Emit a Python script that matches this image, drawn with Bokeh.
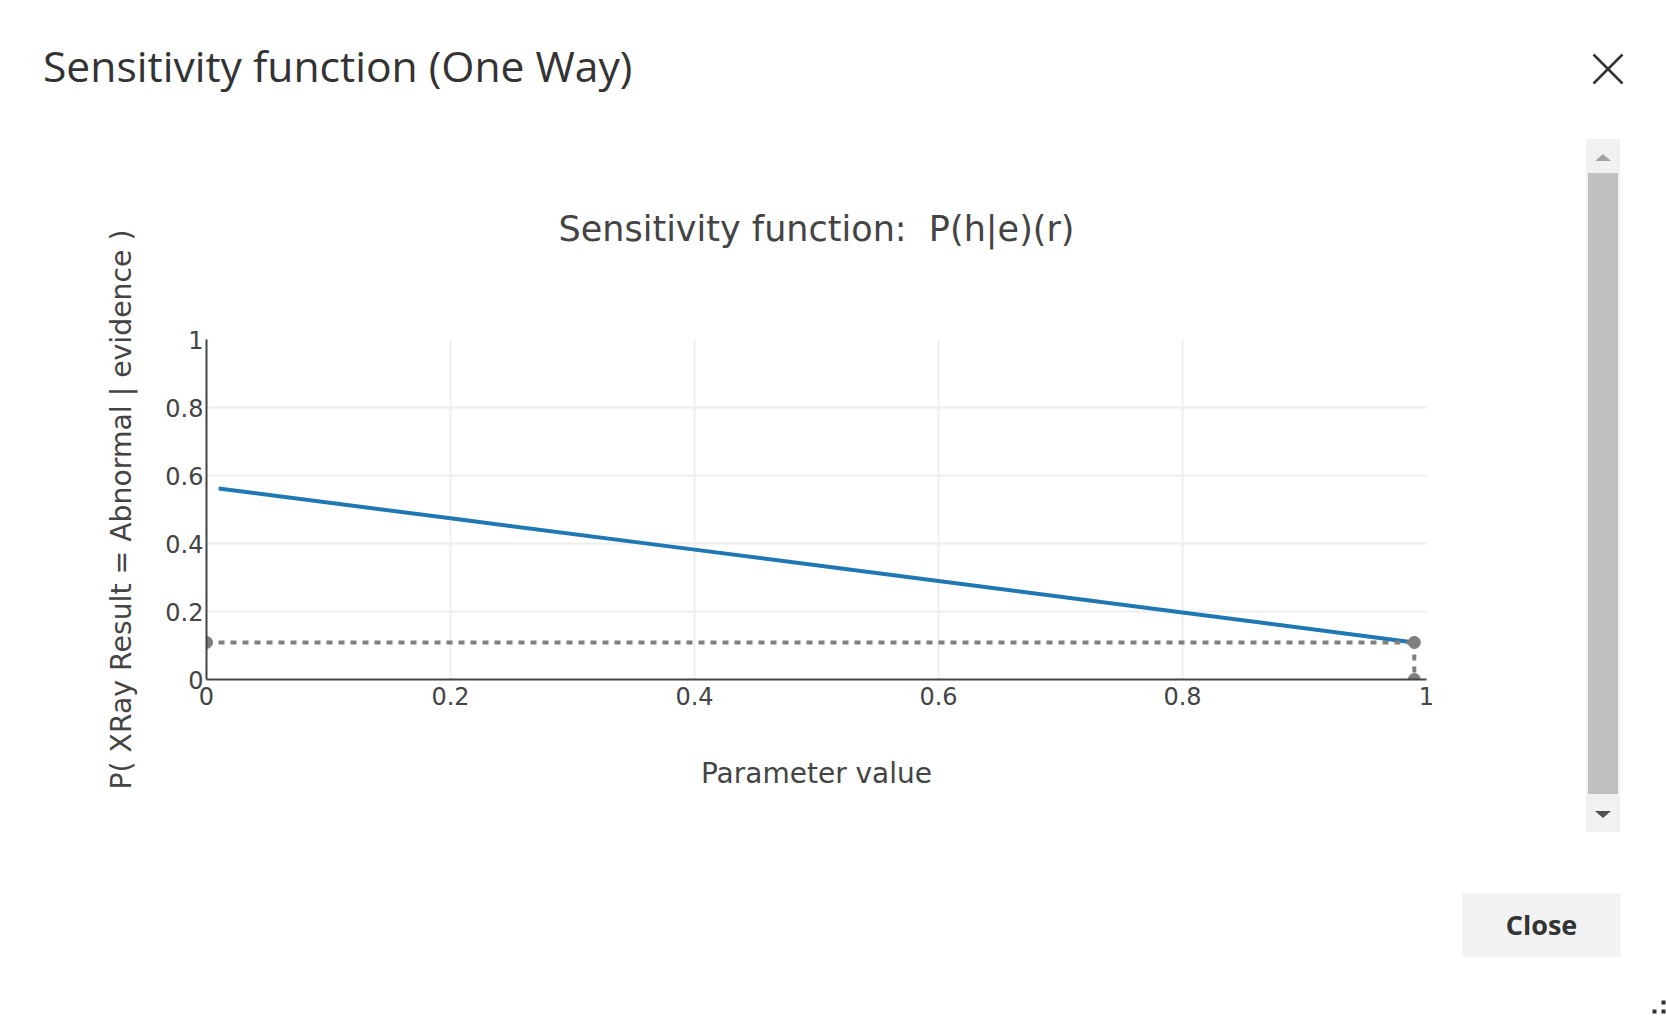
from bokeh.plotting import figure
from bokeh.layouts import column, row
from bokeh.models import Range1d, FixedTicker, PrintfTickFormatter, Div
from bokeh.core.properties import value
from bokeh.embed import file_html
from bokeh.resources import INLINE

# ---------------- data ----------------
param_values = [0.01, 0.2, 0.4, 0.6, 0.8, 0.99]
posterior = [0.562, 0.474, 0.382, 0.290, 0.197, 0.109]
current_param = 0.99
current_prob = 0.109
x_ticks = [0, 0.2, 0.4, 0.6, 0.8, 1]
y_ticks = [0, 0.2, 0.4, 0.6, 0.8, 1]
grid_ticks = [0.2, 0.4, 0.6, 0.8]

dialog_title = "Sensitivity function (One Way)"
chart_title = "Sensitivity function:\u00a0 P(h|e)(r)"
x_label = "Parameter value"
y_label = "P( XRay Result = Abnormal | evidence )"
button_text = "Close"

# ---------------- page layout (pixels) ----------------
PW, PH = 1666, 1017
TOP_H = 114          # dialog header band
MID_H = 840 - TOP_H  # chart band
BOT_H = PH - TOP_H - MID_H
CHART_W = 1586
FL, FR, FT, FB = 206, 1426, 339, 679   # plot frame on the page


def bare(width, height, x0, x1, y0, y1):
    f = figure(width=width, height=height, x_range=Range1d(x0, x1),
               y_range=Range1d(y1, y0), output_backend="svg",
               toolbar_location=None, x_axis_type=None, y_axis_type=None,
               min_border=0)
    f.outline_line_color = None
    f.grid.visible = False
    f.background_fill_color = "white"
    f.border_fill_color = "white"
    return f


# ---------------- header ----------------
top = bare(PW, TOP_H, 0, PW, 0, TOP_H)
top.text(x=[42.5], y=[64], text=[dialog_title], text_font=value("Open Sans"),
         text_font_size="42.6px", text_color="#333333", text_align="left",
         text_baseline="alphabetic")
top.segment(x0=[1593, 1593], y0=[54, 83], x1=[1622, 1622], y1=[83, 54],
            line_color="#333333", line_width=2.5)

# ---------------- chart ----------------
p = figure(width=CHART_W, height=MID_H, x_range=Range1d(0, 1), y_range=Range1d(0, 1),
           output_backend="svg", toolbar_location=None,
           min_border_left=FL, min_border_right=CHART_W - FR,
           min_border_top=FT - TOP_H, min_border_bottom=TOP_H + MID_H - FB,
           title=chart_title)
p.outline_line_color = None
p.background_fill_color = "white"
p.border_fill_color = "white"
p.title.text_font = "DejaVu Sans"
p.title.text_font_size = "35px"
p.title.text_font_style = "normal"
p.title.text_color = "#444444"
p.title.align = "center"
p.title.standoff = 182
p.title.offset = 7

for ax, ticks, lab in ((p.xaxis[0], x_ticks, x_label), (p.yaxis[0], y_ticks, y_label)):
    ax.ticker = FixedTicker(ticks=ticks)
    ax.formatter = PrintfTickFormatter(format="%g")
    ax.axis_line_color = "#444444"
    ax.axis_line_width = 2
    ax.major_tick_line_color = None
    ax.minor_tick_line_color = None
    ax.major_tick_out = 0
    ax.major_tick_in = 0
    ax.minor_tick_out = 0
    ax.minor_tick_in = 0
    ax.major_label_text_font = "DejaVu Sans"
    ax.major_label_text_font_size = "24px"
    ax.major_label_text_color = "#444444"
    ax.axis_label = lab
    ax.axis_label_text_font = "DejaVu Sans"
    ax.axis_label_text_font_size = "28px"
    ax.axis_label_text_font_style = "normal"
    ax.axis_label_text_color = "#444444"

p.yaxis[0].axis_label_text_font_size = "28.3px"
p.xaxis[0].major_label_standoff = 7
p.xaxis[0].axis_label_standoff = 49
p.yaxis[0].major_label_standoff = 3
p.yaxis[0].axis_label_standoff = 24

p.xgrid.ticker = FixedTicker(ticks=grid_ticks)
p.ygrid.ticker = FixedTicker(ticks=grid_ticks)
for g in (p.xgrid, p.ygrid):
    g.grid_line_color = "#eeeeee"
    g.grid_line_width = 2

p.line(param_values, posterior, line_width=4, color="#1f77b4")
p.line([0, current_param], [current_prob, current_prob], line_width=4,
       color="#7f7f7f", line_dash="6 6")
p.line([current_param, current_param], [current_prob, 0], line_width=4,
       color="#7f7f7f", line_dash="6 6")
p.scatter([0, current_param, current_param], [current_prob, current_prob, 0],
          size=12, color="#7f7f7f")

# ---------------- scrollbar (plain HTML block) ----------------
sb_html = (
    '<div style="position:relative;margin-top:%dpx;width:34px;height:693px;background:#f1f1f1;">'
    '<div style="position:absolute;left:2px;top:34px;width:30px;height:621px;background:#c1c1c1;"></div>'
    '<div style="position:absolute;left:9px;top:15px;width:0;height:0;'
    'border-left:8px solid transparent;border-right:8px solid transparent;'
    'border-bottom:7px solid #a3a3a3;"></div>'
    '<div style="position:absolute;left:9px;top:672px;width:0;height:0;'
    'border-left:8px solid transparent;border-right:8px solid transparent;'
    'border-top:7px solid #505050;"></div>'
    '</div>'
) % (139 - TOP_H)
sb = Div(text=sb_html, width=PW - CHART_W, height=MID_H, margin=(0, 0, 0, 0))

# ---------------- footer ----------------
bot = bare(PW, BOT_H, 0, PW, TOP_H + MID_H, PH)
bot.quad(left=[1462], right=[1620], top=[892.7], bottom=[956.7],
         fill_color="#f2f2f2", line_color=None)
bot.text(x=[1541], y=[924], text=[button_text], text_font=value("Open Sans"),
         text_font_style="bold", text_font_size="27px", text_color="#333333",
         text_align="center", text_baseline="alphabetic")
bot.quad(left=[1652, 1661, 1661], right=[1656, 1665, 1665],
         top=[1009, 1009, 1000], bottom=[1013, 1013, 1004],
         fill_color="#333333", line_color=None)

layout = column(top, row(p, sb, spacing=0), bot, spacing=0)
open("out.html", "w").write(file_html(layout, INLINE))
